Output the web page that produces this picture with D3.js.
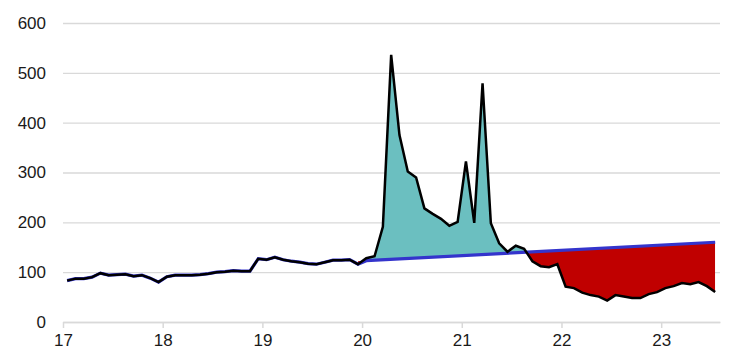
<!DOCTYPE html>
<html><head><meta charset="utf-8">
<script src="https://cdn.jsdelivr.net/npm/d3@7"></script>
<style>body{margin:0;background:#fff}text{font-family:Arial,"Liberation Sans",sans-serif}</style>
</head><body><svg id="c" width="729" height="354"></svg>
<script>
const startYear = 17;
const values = [
  83, 87, 87, 90, 98, 94, 95, 96, 92, 94, 88, 80,
  91, 94, 94, 94, 95, 97, 100, 101, 103, 102, 102, 127,
  125, 130, 125, 122, 120, 117, 116, 120, 124, 124, 125, 116,
  128, 132, 191, 536, 375, 302, 290, 228, 217, 207, 193, 201,
  322, 199, 479, 198, 158, 141, 153, 147, 122, 112, 110, 116,
  71, 68, 59, 54, 51, 43, 54, 51, 48, 48, 56, 60,
  68, 72, 78, 76, 80, 72, 60
];
const yTicks = [0, 100, 200, 300, 400, 500, 600];
const xTicks = [17, 18, 19, 20, 21, 22, 23];
const trendStart = {i: 36, v: 123};
const trendEnd = {i: 78, v: 160};
const fillFrom = 35;

const svg = d3.select("#c");
const x = d3.scaleLinear().domain([17, 23.59]).range([63, 720]);
const y = d3.scaleLinear().domain([0, 600]).range([322, 23]);
const t = i => startYear + (i + 0.5) / 12;
const trend = d3.scaleLinear().domain([trendStart.i, trendEnd.i]).range([trendStart.v, trendEnd.v]);

// y grid + labels
const ya = svg.append("g").attr("transform", "translate(63,0)")
  .call(d3.axisLeft(y).tickValues(yTicks).tickSize(-(720 - 63)).tickPadding(17));
ya.select(".domain").remove();
ya.selectAll(".tick line").attr("stroke", "#d9d9d9").attr("stroke-width", 1.3);
ya.selectAll(".tick text").attr("font-size", 17).attr("fill", "#1a1a1a");

// x axis
const xa = svg.append("g").attr("transform", "translate(0,322)")
  .call(d3.axisBottom(x).tickValues(xTicks).tickSize(6).tickSizeOuter(0).tickPadding(6).tickFormat(d3.format("d")));
xa.select(".domain").attr("stroke", "#d9d9d9").attr("stroke-width", 1.5);
xa.selectAll(".tick line").attr("stroke", "#d9d9d9").attr("stroke-width", 1.5);
xa.selectAll(".tick text").attr("font-size", 17).attr("fill", "#1a1a1a");

// clip paths
const xL = x(t(fillFrom)), xR = x(t(trendEnd.i));
const yL = y(trend(fillFrom)), yR = y(trend(trendEnd.i));
const defs = svg.append("defs");
defs.append("clipPath").attr("id", "above").append("path")
  .attr("d", `M${xL},${yL}L${xR},${yR}L${xR},0L${xL},0Z`);
defs.append("clipPath").attr("id", "below").append("path")
  .attr("d", `M${xL},${yL}L${xR},${yR}L${xR},${y(0)}L${xL},${y(0)}Z`);

const idx = d3.range(fillFrom, values.length);
svg.append("path").attr("clip-path", "url(#above)")
  .attr("d", d3.area().x(i => x(t(i))).y0(y(0)).y1(i => y(values[i]))(idx))
  .attr("fill", "#6bbfc0");
svg.append("path").attr("clip-path", "url(#below)")
  .attr("d", d3.area().x(i => x(t(i))).y0(y(600)).y1(i => y(values[i]))(idx))
  .attr("fill", "#c00000");

// blue baseline/trend
const bluePts = d3.range(0, fillFrom + 1).map(i => [t(i), values[i]])
  .concat([[t(trendStart.i), trendStart.v], [t(trendEnd.i), trendEnd.v]]);
svg.append("path").attr("d", d3.line().x(d => x(d[0])).y(d => y(d[1]))(bluePts))
  .attr("fill", "none").attr("stroke", "#3434cc").attr("stroke-width", 3.2);

// actual
svg.append("path").attr("d", d3.line().x((d, i) => x(t(i))).y(d => y(d))(values))
  .attr("fill", "none").attr("stroke", "#000").attr("stroke-width", 2.5);
</script></body></html>
